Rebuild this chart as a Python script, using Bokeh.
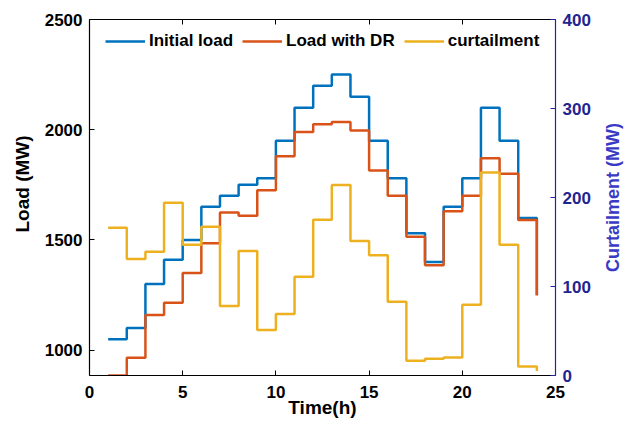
import math
from bokeh.plotting import figure
from bokeh.layouts import row
from bokeh.models import Range1d, LinearAxis, FixedTicker, Legend, LegendItem, Title
from bokeh.embed import file_html
from bokeh.resources import INLINE

# ---- data ----
hours = list(range(1, 25))
initial_load = [1050, 1100, 1300, 1410, 1500, 1650, 1700, 1750, 1780, 1950, 2100, 2200,
                2250, 2150, 1950, 1780, 1530, 1400, 1650, 1780, 2100, 1950, 1600, 1250]
load_with_dr = [885, 965, 1160, 1215, 1350, 1485, 1625, 1610, 1725, 1880, 1990, 2025,
                2035, 1997, 1815, 1700, 1515, 1385, 1630, 1700, 1870, 1800, 1590, 1248]
curtailment = [166, 131, 139, 194, 147, 167, 78, 140, 51, 69, 111, 175,
               214, 151, 135, 83, 16.5, 18.8, 20.3, 79.5, 228, 147, 10, 5]
x_ticks = [0, 5, 10, 15, 20, 25]
load_ticks = [1000, 1500, 2000, 2500]
curt_ticks = [0, 100, 200, 300, 400]

FONT = "Liberation Sans"
BLUE = "#0072BD"
ORANGE = "#D95319"
YELLOW = "#EDB120"
NAVY = "#1f2590"
LBLUE = "#3a3ac4"

p = figure(width=596, height=427, output_backend="svg", toolbar_location=None,
           x_range=Range1d(0, 25), y_range=Range1d(885, 2500),
           x_axis_location=None, y_axis_location=None,
           min_border_left=89, min_border_right=41, min_border_top=19, min_border_bottom=52)
p.extra_y_ranges = {"curt": Range1d(0, 400)}
p.outline_line_color = None
p.xgrid.grid_line_color = None
p.ygrid.grid_line_color = None
p.background_fill_color = "white"
p.border_fill_color = "white"

r1 = p.step(hours, initial_load, mode="after", line_color=BLUE, line_width=2.5)
r2 = p.step(hours, load_with_dr, mode="after", line_color=ORANGE, line_width=2.5)
r3 = p.step(hours, curtailment, mode="after", line_color=YELLOW, line_width=2.5,
            y_range_name="curt")


def style(ax, color, label_color):
    ax.axis_line_color = color
    ax.axis_line_width = 1.2
    ax.major_tick_line_color = color
    ax.major_tick_in = 5
    ax.major_tick_out = 0
    ax.minor_tick_line_color = None
    ax.major_label_text_font = FONT
    ax.major_label_text_font_style = "bold"
    ax.major_label_text_font_size = "17px"
    ax.major_label_text_color = label_color
    ax.axis_label_text_font = FONT
    ax.axis_label_text_font_style = "bold"
    ax.axis_label_text_font_size = "19px"
    ax.axis_label_text_color = "black"


bottom = LinearAxis(ticker=FixedTicker(ticks=x_ticks), axis_label="Time(h)")
style(bottom, "black", "black")
bottom.major_label_standoff = 10
bottom.axis_label_standoff = -4
p.add_layout(bottom, "below")

top = LinearAxis(ticker=FixedTicker(ticks=x_ticks))
style(top, "black", None)
top.major_label_text_font_size = "1px"
top.major_label_standoff = 0
p.add_layout(top, "above")

left = LinearAxis(ticker=FixedTicker(ticks=load_ticks))
style(left, "black", "black")
left.major_label_standoff = 7
p.add_layout(left, "left")

right = LinearAxis(y_range_name="curt", ticker=FixedTicker(ticks=curt_ticks))
style(right, "#2323a8", NAVY)
right.major_label_standoff = 7
p.add_layout(right, "right")

# left y-axis title (starts 143 px above the frame bottom, reads upward)
p.add_layout(Title(text="Load (MW)", align="left", offset=143, standoff=18,
                   text_font=FONT, text_font_style="bold", text_font_size="19px",
                   text_color="black"), "left")

legend = Legend(items=[LegendItem(label="Initial load", renderers=[r1]),
                       LegendItem(label="Load with DR", renderers=[r2]),
                       LegendItem(label="curtailment", renderers=[r3])],
                orientation="horizontal", location=(6, 314),
                border_line_alpha=0, background_fill_alpha=0,
                glyph_width=40, glyph_height=16, label_standoff=4, spacing=9,
                margin=0, padding=10,
                label_text_font=FONT, label_text_font_style="bold",
                label_text_font_size="17px", label_text_color="black")
p.add_layout(legend)

# narrow strip on the right that carries the right-hand axis title
p2 = figure(width=28, height=427, output_backend="svg", toolbar_location=None,
            x_axis_location=None, y_axis_location=None,
            min_border_left=26, min_border_right=0, min_border_top=0, min_border_bottom=51)
p2.outline_line_color = None
p2.xgrid.grid_line_color = None
p2.ygrid.grid_line_color = None
p2.border_fill_color = "white"
p2.add_layout(Title(text="Curtailment (MW)", align="center", standoff=0,
                    text_font=FONT, text_font_style="bold", text_font_size="18px",
                    text_color=LBLUE), "left")

open("out.html", "w").write(file_html(row(p, p2, spacing=0), INLINE))
